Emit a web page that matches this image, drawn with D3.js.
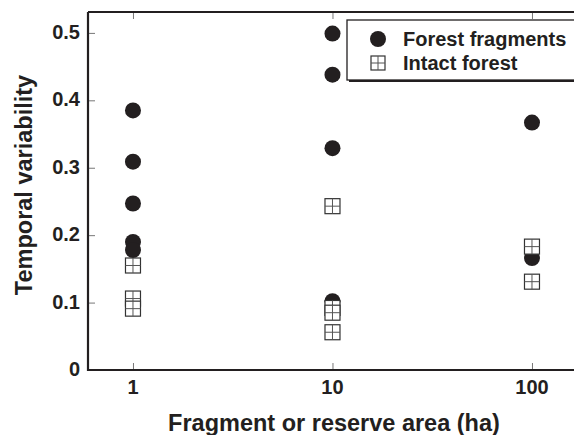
<!DOCTYPE html>
<html><head><meta charset="utf-8">
<script src="https://cdn.jsdelivr.net/npm/d3@7"></script>
<style>body{margin:0;background:#fff}text{font-family:"Liberation Sans",Arial,sans-serif;font-weight:bold;fill:#231f20}</style>
</head><body><svg id="c" width="574" height="435"></svg>
<script>
const fragX = [1,1,1,1,1, 10,10,10,10, 100,100];
const fragY = [0.385,0.309,0.247,0.190,0.178, 0.499,0.438,0.329,0.102, 0.367,0.166];
const intactX = [1,1,1, 10,10,10,10, 100,100];
const intactY = [0.155,0.106,0.091, 0.243,0.092,0.085,0.056, 0.183,0.131];
const yTicks = [0,0.1,0.2,0.3,0.4,0.5];
const xTicks = [1,10,100];
const seriesNames = ["Forest fragments","Intact forest"];

const svg = d3.select("#c");
const L=88, R=600, T=12, B=370;
const x = d3.scaleLog().domain([0.595, 162]).range([L, L + (Math.log10(162)-Math.log10(0.595))*199.5]);
const y = d3.scaleLinear().domain([0, 0.531]).range([B, T]);
const ink="#231f20";

// ticks (inside)
const yAx = d3.axisRight(y).tickValues(yTicks).tickSize(7).tickFormat("");
const ga = svg.append("g").attr("transform",`translate(${L},0)`).call(yAx);
ga.select(".domain").remove();
ga.selectAll("line").attr("stroke","#777").attr("stroke-width",1);
const xAx = d3.axisTop(x).tickValues(xTicks).tickSize(7).tickFormat("");
const gb = svg.append("g").attr("transform",`translate(0,${B})`).call(xAx);
gb.select(".domain").remove();
gb.selectAll("line").attr("stroke","#777");
const xAxT = d3.axisBottom(x).tickValues(xTicks).tickSize(7).tickFormat("");
const gt = svg.append("g").attr("transform",`translate(0,${T})`).call(xAxT);
gt.select(".domain").remove();
gt.selectAll("line").attr("stroke","#777");

// tick labels
svg.append("g").selectAll("text").data(yTicks).join("text")
  .attr("x",80).attr("y",d=>y(d)+6).attr("text-anchor","end")
  .style("font-size","20px").text(d=>d===0?"0":d3.format(".1f")(d));
svg.append("g").selectAll("text").data(xTicks).join("text")
  .attr("x",d=>x(d)).attr("y",394).attr("text-anchor","middle")
  .style("font-size","20px").text(d=>d);

// spines
svg.append("path").attr("d",`M${L},${T}V${B}H${R}`).attr("fill","none").attr("stroke",ink).attr("stroke-width",2.2);
svg.append("line").attr("x1",L).attr("x2",R).attr("y1",T).attr("y2",T).attr("stroke",ink).attr("stroke-width",2.2);

// axis titles
svg.append("text").attr("x",334).attr("y",431).attr("text-anchor","middle").style("font-size","23.5px").text("Fragment or reserve area (ha)");
svg.append("text").attr("transform","translate(32,185) rotate(-90)").attr("text-anchor","middle").style("font-size","23.5px").text("Temporal variability");

// circles
svg.append("g").selectAll("circle").data(fragX.map((d,i)=>[d,fragY[i]])).join("circle")
  .attr("cx",d=>x(d[0])).attr("cy",d=>y(d[1])).attr("r",8).attr("fill",ink);

// squares
function square(g, cx, cy, s){
  g.append("rect").attr("x",cx-s/2).attr("y",cy-s/2).attr("width",s).attr("height",s).attr("fill","#fff").attr("stroke","#333").attr("stroke-width",1.2);
  g.append("line").attr("x1",cx).attr("x2",cx).attr("y1",cy-s/2).attr("y2",cy+s/2).attr("stroke","#555").attr("stroke-width",1);
  g.append("line").attr("x1",cx-s/2).attr("x2",cx+s/2).attr("y1",cy).attr("y2",cy).attr("stroke","#555").attr("stroke-width",1);
}
const sq = svg.append("g");
intactX.forEach((d,i)=>square(sq, x(d), y(intactY[i]), 15));

// legend
const lg = svg.append("g");
lg.append("rect").attr("x",349).attr("y",22).attr("width",240).attr("height",60).attr("fill",ink);
lg.append("rect").attr("x",347).attr("y",20).attr("width",240).attr("height",60).attr("fill","#fff").attr("stroke",ink).attr("stroke-width",1.3);
lg.append("circle").attr("cx",378).attr("cy",39).attr("r",8).attr("fill",ink);
square(lg, 378, 63, 14);
lg.selectAll("text.l").data(seriesNames).join("text").attr("class","l")
  .attr("x",403).attr("y",(d,i)=>46+i*24).style("font-size","20px").text(d=>d);
</script></body></html>
